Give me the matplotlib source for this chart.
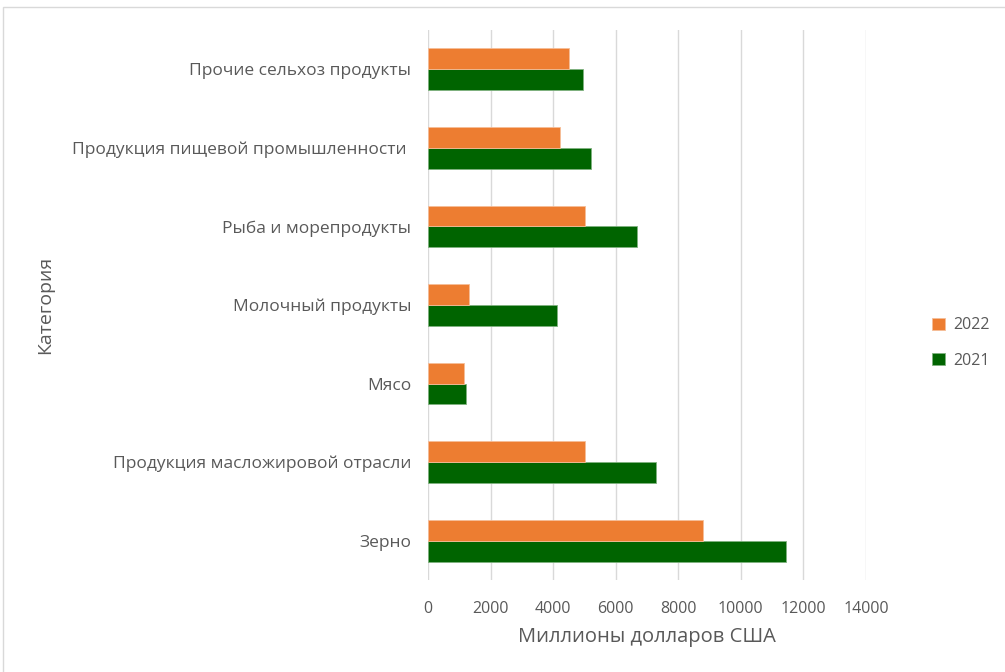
import numpy as np
import matplotlib
matplotlib.use("Agg")
import matplotlib.pyplot as plt
from matplotlib.patches import Rectangle

plt.rcParams['font.family'] = ['Open Sans', 'DejaVu Sans']

categories = ['Зерно', 'Продукция масложировой отрасли', 'Мясо', 'Молочный продукты',
              'Рыба и морепродукты', 'Продукция пищевой промышленности ', 'Прочие сельхоз продукты']
values_2021 = [11430, 7280, 1200, 4130, 6680, 5210, 4950]
values_2022 = [8800, 5030, 1150, 1320, 5030, 4220, 4520]
xticks = [0, 2000, 4000, 6000, 8000, 10000, 12000, 14000]

text_color = '#595959'
grid_color = '#d9d9d9'
orange = '#ED7D31'
green = '#006400'

fig = plt.figure(figsize=(10.05, 6.72), dpi=100)
ax = fig.add_axes([428 / 1005, 1 - 580 / 672, (866 - 428) / 1005, 550 / 672])

y = np.arange(len(categories))
h = 0.265
ax.barh(y - h / 2, values_2021, height=h, color=green, edgecolor='#7fb27f', linewidth=0.6,
        label='2021', zorder=3)
ax.barh(y + h / 2, values_2022, height=h, color=orange, edgecolor='#f6bd98', linewidth=0.6,
        label='2022', zorder=3)

ax.set_xlim(0, 14000)
ax.set_ylim(-0.5, len(categories) - 0.5)
ax.set_xticks(xticks)
ax.set_xticklabels([str(t) for t in xticks])
ax.set_yticks(y)
ax.set_yticklabels(categories)
ax.tick_params(axis='both', length=0, colors=text_color)
ax.tick_params(axis='x', pad=15, labelsize=11.5)
ax.tick_params(axis='y', pad=12, labelsize=12.5)
ax.grid(axis='x', color=grid_color, linewidth=1, zorder=0)
for s in ax.spines.values():
    s.set_visible(False)

ax.set_xlabel('Миллионы долларов США', color=text_color, fontsize=14.5, labelpad=7)
fig.text(45 / 1005, 1 - 305 / 672, 'Категория', rotation=90, color=text_color,
         fontsize=14, ha='center', va='center')

handles, labels = ax.get_legend_handles_labels()
leg = fig.legend(handles[::-1], labels[::-1], loc='center left',
                 bbox_to_anchor=(918 / 1005, 1 - 343 / 672), frameon=False,
                 fontsize=11.5, handlelength=0.8, handleheight=0.8, labelspacing=1.2,
                 handletextpad=0.5)
for t in leg.get_texts():
    t.set_color(text_color)

fig.patches.append(Rectangle((3 / 1005, -0.01), 1.1, 1 - 7 / 672 + 0.01,
                             transform=fig.transFigure, fill=False,
                             edgecolor='#d9d9d9', linewidth=1))

fig.savefig('out.png', dpi=100)
